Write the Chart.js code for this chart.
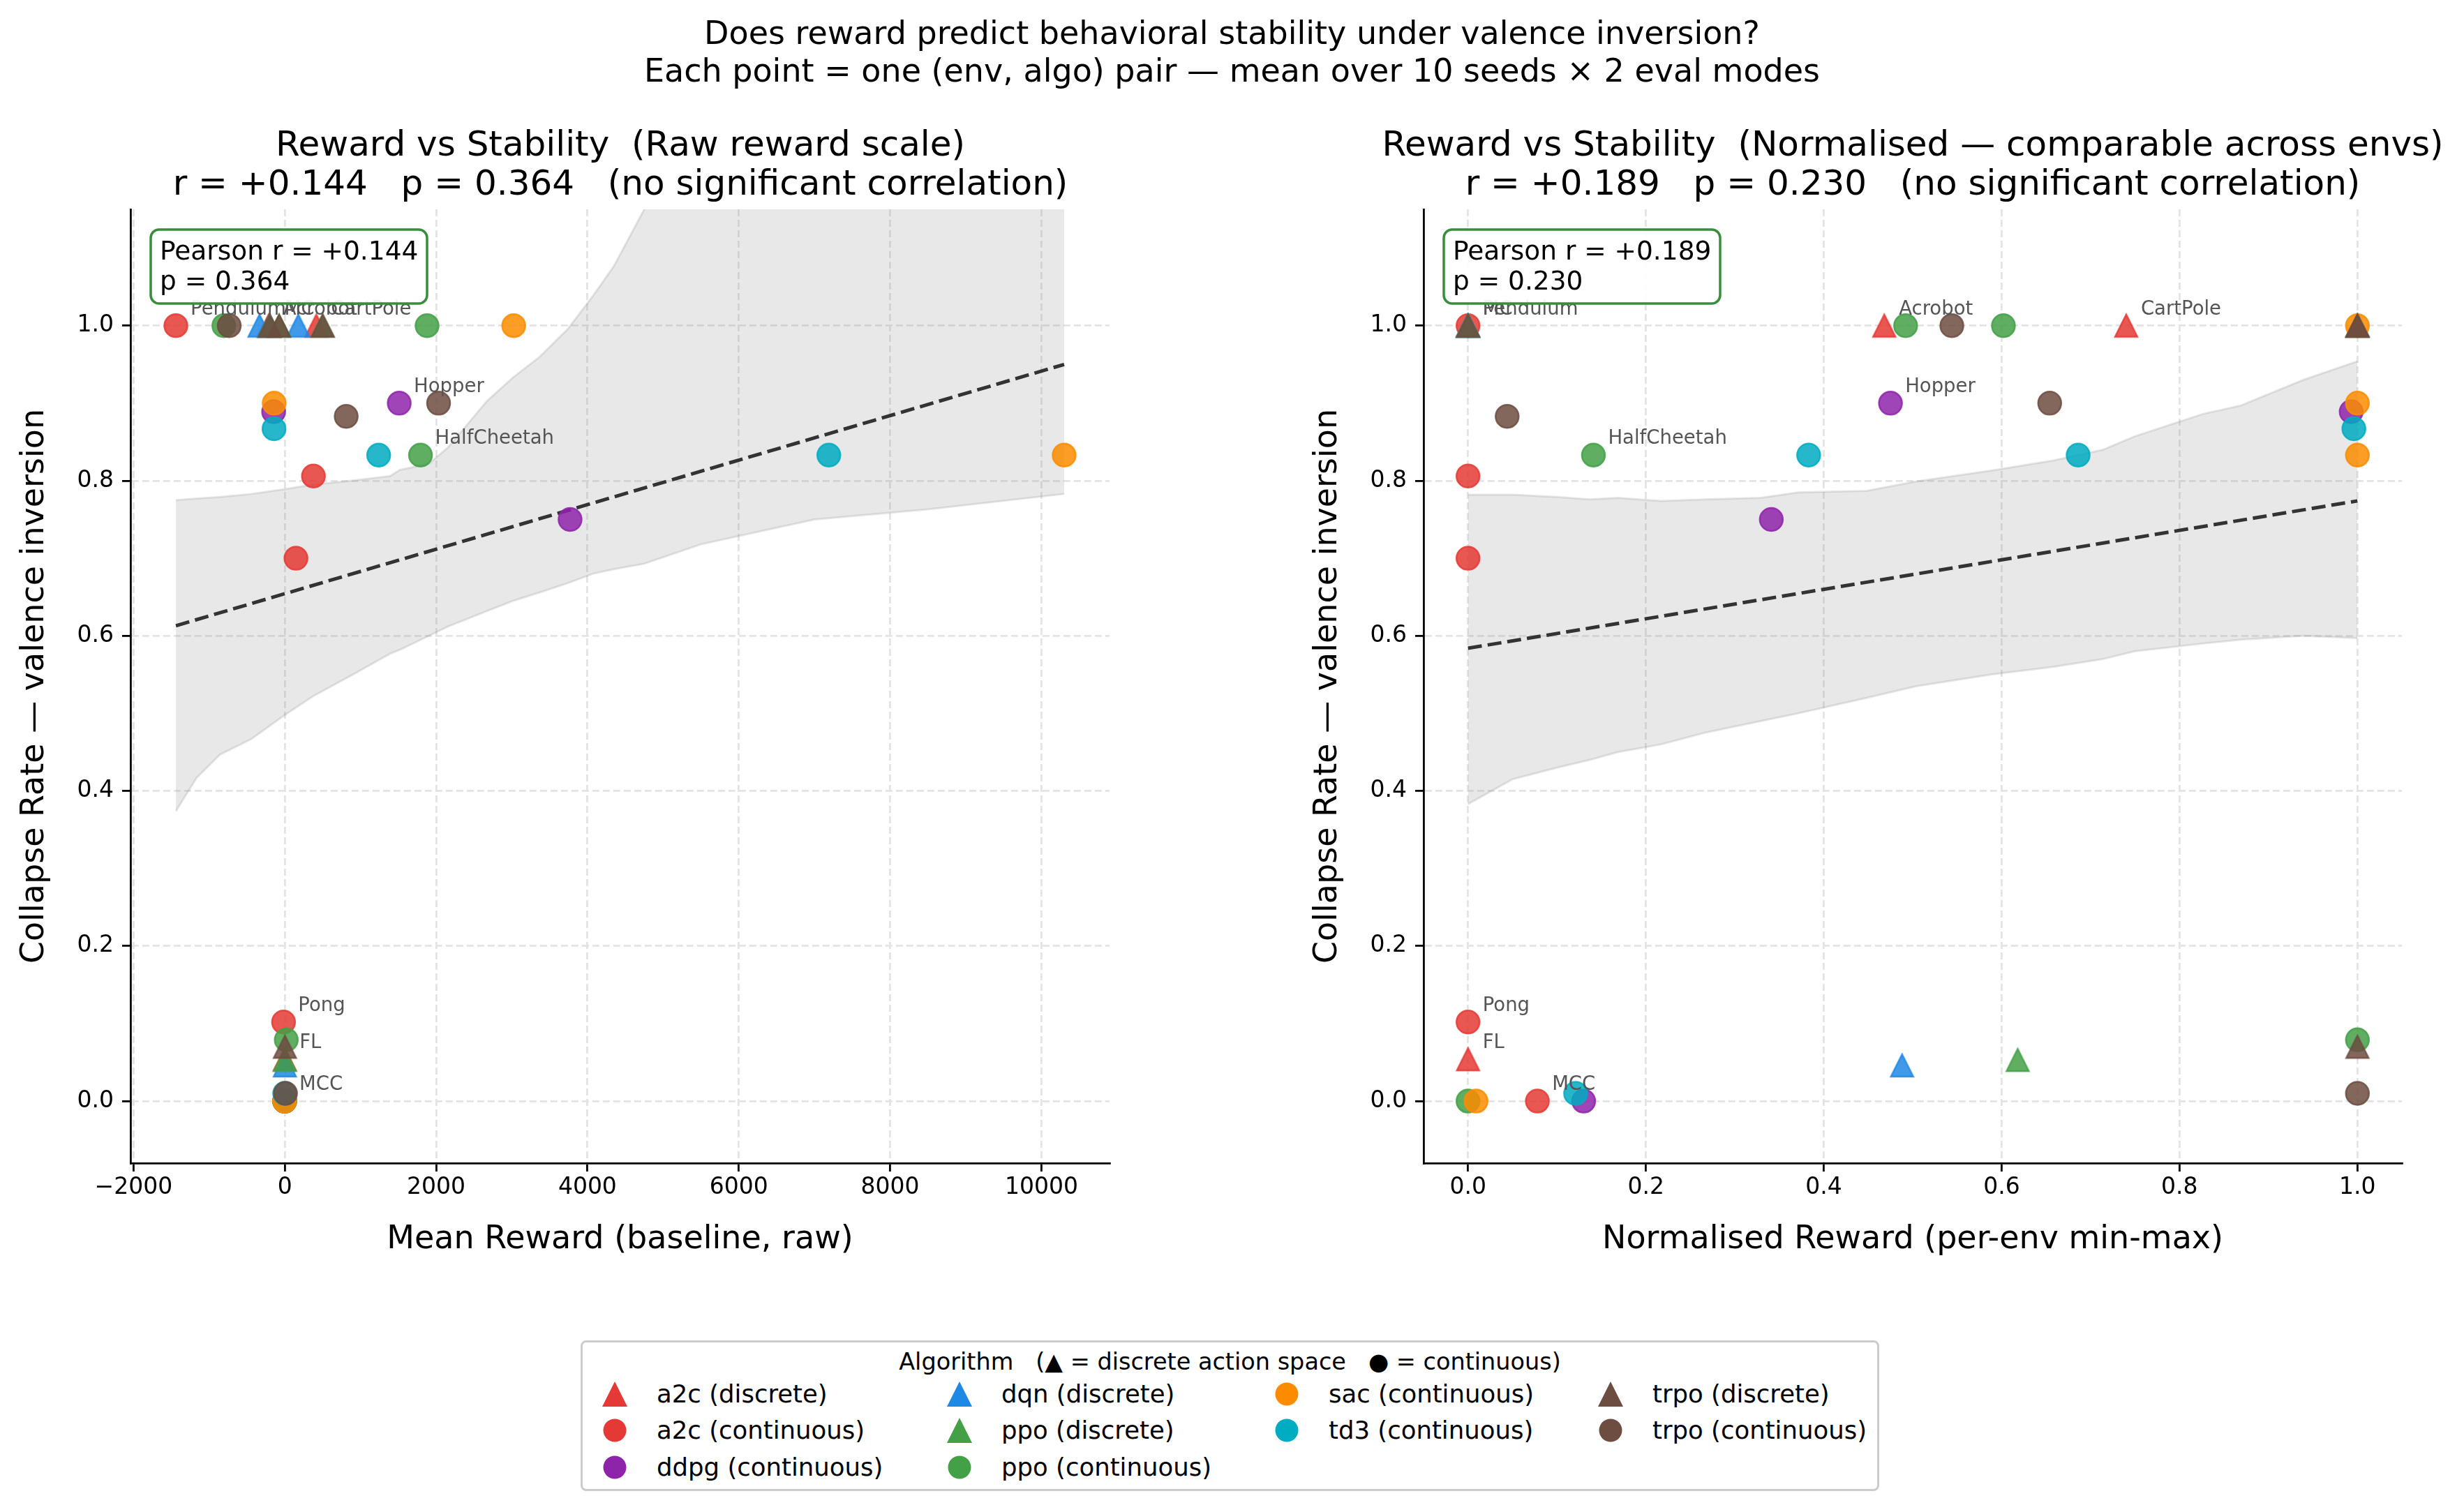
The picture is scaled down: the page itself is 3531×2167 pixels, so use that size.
<!DOCTYPE html>
<html lang="en">
<head>
  <meta charset="UTF-8">
  <title>Reward vs Stability under valence inversion</title>
  <script src="https://cdn.jsdelivr.net/npm/chart.js@4.4.0/dist/chart.umd.min.js"></script>
  <style>
    html, body { margin: 0; padding: 0; background: #fff; }
    body {
      width: 3531px; height: 2167px; position: relative; overflow: hidden;
      font-family: "DejaVu Sans", sans-serif; color: #000;
    }
    #suptitle {
      position: absolute; left: 0; top: 20px; width: 3531px;
      text-align: center; font-size: 46px; line-height: 54px; z-index: 2;
    }
    .axtitle {
      position: absolute; top: 178px; width: 1800px; text-align: center;
      font-size: 50px; line-height: 56px; white-space: pre; z-index: 2;
    }
    #raw-title { left: -11px; }     /* centred on x = 888.5 */
    #norm-title { left: 1841px; }   /* centred on x = 2741 */
    .panel { position: absolute; top: 0; }
    #left-panel { left: 0; width: 1765px; height: 1860px; }
    #right-panel { left: 1853px; width: 1678px; height: 1860px; }
    #legend {
      position: absolute; left: 832px; top: 1921px; width: 1861px; height: 216px;
      box-sizing: border-box; border: 3px solid #cccccc; border-radius: 8px; background: #fff;
    }
    #legend-title {
      position: absolute; left: 0; width: 100%; top: 9px; text-align: center;
      font-size: 33.5px; line-height: 38px; white-space: pre;
    }
    .leg-marker { position: absolute; width: 40px; height: 40px; }
    .leg-text { position: absolute; font-size: 35.5px; line-height: 40px; white-space: pre; }
  </style>
</head>
<body>
  <div id="suptitle">Does reward predict behavioral stability under valence inversion?<br>Each point = one (env, algo) pair — mean over 10 seeds × 2 eval modes</div>
  <div class="axtitle" id="raw-title"></div>
  <div class="axtitle" id="norm-title"></div>

  <div class="panel" id="left-panel"><canvas id="rawChart" width="1765" height="1860"></canvas></div>
  <div class="panel" id="right-panel"><canvas id="normChart" width="1678" height="1860"></canvas></div>

  <div id="legend">
    <div id="legend-title">Algorithm   (▲ = discrete action space   ● = continuous)</div>
  </div>

  <script>
    // ---- data ----
    const discreteEnvs = ['Acrobot', 'CartPole', 'MC', 'FL'];

    const pointEnv = [
      'Pendulum', 'Pendulum', 'Pendulum', 'Pendulum', 'Pendulum', 'Pendulum',
      'Hopper', 'Hopper', 'Hopper', 'Hopper', 'Hopper', 'Hopper',
      'HalfCheetah', 'HalfCheetah', 'HalfCheetah', 'HalfCheetah', 'HalfCheetah', 'HalfCheetah',
      'MCC', 'MCC', 'MCC', 'MCC', 'MCC', 'MCC',
      'Pong', 'Pong',
      'Acrobot', 'Acrobot', 'Acrobot', 'Acrobot',
      'CartPole', 'CartPole', 'CartPole', 'CartPole',
      'MC', 'MC', 'MC', 'MC',
      'FL', 'FL', 'FL', 'FL'
    ];
    const pointAlgo = [
      'a2c', 'ddpg', 'ppo', 'sac', 'td3', 'trpo',
      'a2c', 'ddpg', 'ppo', 'sac', 'td3', 'trpo',
      'a2c', 'ddpg', 'ppo', 'sac', 'td3', 'trpo',
      'a2c', 'ddpg', 'ppo', 'sac', 'td3', 'trpo',
      'a2c', 'ppo',
      'a2c', 'dqn', 'ppo', 'trpo',
      'a2c', 'dqn', 'ppo', 'trpo',
      'a2c', 'dqn', 'ppo', 'trpo',
      'a2c', 'dqn', 'ppo', 'trpo'
    ];
    const rawReward = [
      -1440, -148, -806, -141, -143, -735,
      147, 1512, 1880, 3025, 1240, 2032,
      378, 3770, 1793, 10300, 7190, 811,
      -2.1, -1.5, -3.0, -2.9, -1.6, 8.5,
      -17, 19,
      -215, -335, -76, -76,
      416, 178, 500, 500,
      -200, -200, -200, -200,
      0.0, 0.36, 0.46, 0.74
    ];
    const normReward = [
      0.000, 0.993, 0.492, 1.000, 0.996, 0.544,
      0.000, 0.475, 0.602, 1.000, 0.383, 0.654,
      0.000, 0.341, 0.141, 1.000, 0.686, 0.044,
      0.078, 0.130, 0.000, 0.009, 0.121, 1.000,
      0.000, 1.000,
      0.468, 0.000, 1.000, 1.000,
      0.740, 0.000, 1.000, 1.000,
      0.000, 0.000, 0.000, 0.000,
      0.000, 0.488, 0.618, 1.000
    ];
    const collapseRate = [
      1.000, 0.889, 1.000, 0.900, 0.867, 1.000,
      0.700, 0.900, 1.000, 1.000, 0.833, 0.900,
      0.806, 0.750, 0.833, 0.833, 0.833, 0.883,
      0.000, 0.000, 0.000, 0.000, 0.010, 0.010,
      0.102, 0.079,
      1.000, 1.000, 1.000, 1.000,
      1.000, 1.000, 1.000, 1.000,
      1.000, 1.000, 1.000, 1.000,
      0.054, 0.046, 0.053, 0.070
    ];

    // env name annotations sit next to one point of each env
    const labelEnv  = ['Pendulum', 'Acrobot', 'MC', 'CartPole', 'Hopper', 'HalfCheetah', 'Pong', 'FL', 'MCC'];
    const labelAlgo = ['a2c', 'a2c', 'a2c', 'a2c', 'ddpg', 'ppo', 'a2c', 'a2c', 'a2c'];

    // OLS fit lines and bootstrap band (raw panel)
    const rawFitX = [-1440, 10300];
    const rawFitY = [0.613, 0.950];
    const rawBandX    = [-1440, -1166, -855, -440, -14, 370, 881, 1392, 1520, 1904, 2157, 2415, 2673, 3014, 3371, 3742, 4070, 4350, 4750, 5500, 7000, 8500, 10300];
    const rawBandHigh = [0.775, 0.777, 0.779, 0.783, 0.789, 0.795, 0.800, 0.806, 0.814, 0.822, 0.843, 0.873, 0.903, 0.933, 0.960, 0.996, 1.038, 1.077, 1.150, 1.250, 1.450, 1.600, 1.800];
    const rawBandLow  = [0.374, 0.417, 0.447, 0.467, 0.497, 0.522, 0.549, 0.577, 0.582, 0.600, 0.612, 0.622, 0.632, 0.645, 0.656, 0.668, 0.680, 0.686, 0.693, 0.718, 0.750, 0.763, 0.783];

    // normalised panel
    const normFitX = [0, 1];
    const normFitY = [0.584, 0.774];
    const normBandX    = [0, 0.05, 0.1, 0.137, 0.168, 0.217, 0.266, 0.329, 0.371, 0.448, 0.504, 0.588, 0.658, 0.714, 0.749, 0.826, 0.869, 0.939, 1.0];
    const normBandHigh = [0.782, 0.782, 0.779, 0.776, 0.778, 0.774, 0.776, 0.778, 0.785, 0.787, 0.799, 0.813, 0.826, 0.840, 0.857, 0.886, 0.897, 0.930, 0.954];
    const normBandLow  = [0.383, 0.415, 0.430, 0.440, 0.450, 0.460, 0.475, 0.490, 0.500, 0.520, 0.535, 0.550, 0.560, 0.570, 0.580, 0.590, 0.595, 0.600, 0.597];

    // tick positions
    const rawTicks = [-2000, 0, 2000, 4000, 6000, 8000, 10000];
    const normTicks = [0, 0.2, 0.4, 0.6, 0.8, 1.0];
    const collapseTicks = [0, 0.2, 0.4, 0.6, 0.8, 1.0];

    const rawTitle  = ['Reward vs Stability  (Raw reward scale)', 'r = +0.144   p = 0.364   (no significant correlation)'];
    const normTitle = ['Reward vs Stability  (Normalised — comparable across envs)', 'r = +0.189   p = 0.230   (no significant correlation)'];
    const rawStats  = ['Pearson r = +0.144', 'p = 0.364'];
    const normStats = ['Pearson r = +0.189', 'p = 0.230'];

    // legend / draw order
    const groups = [
      ['a2c', 'discrete'], ['a2c', 'continuous'], ['ddpg', 'continuous'],
      ['dqn', 'discrete'], ['ppo', 'discrete'], ['ppo', 'continuous'],
      ['sac', 'continuous'], ['td3', 'continuous'],
      ['trpo', 'discrete'], ['trpo', 'continuous']
    ];

    const algoColors = {
      a2c: '#e53935', ddpg: '#8e24aa', dqn: '#1e88e5', ppo: '#43a047',
      sac: '#fb8c00', td3: '#00acc1', trpo: '#6d4c41'
    };

    Chart.defaults.font.family = "'DejaVu Sans', sans-serif";
    Chart.defaults.color = '#000';

    document.getElementById('raw-title').textContent = rawTitle.join('\n');
    document.getElementById('norm-title').textContent = normTitle.join('\n');

    function rgba(hex, a) {
      const n = parseInt(hex.slice(1), 16);
      return `rgba(${(n >> 16) & 255}, ${(n >> 8) & 255}, ${n & 255}, ${a})`;
    }

    function spaceOf(env) {
      return discreteEnvs.includes(env) ? 'discrete' : 'continuous';
    }

    function triangleSprite(hex) {
      const c = document.createElement('canvas');
      c.width = 40; c.height = 40;
      const g = c.getContext('2d');
      g.beginPath();
      g.moveTo(20, 4); g.lineTo(4, 36); g.lineTo(36, 36); g.closePath();
      g.fillStyle = rgba(hex, 0.85);
      g.fill();
      g.lineWidth = 2.5;
      g.strokeStyle = rgba(hex, 0.85);
      g.stroke();
      return c;
    }

    function buildDatasets(xs, bandX, bandLow, bandHigh, fitX, fitY) {
      const sets = [];
      sets.push({
        type: 'line', data: bandX.map((x, i) => ({ x, y: bandHigh[i] })),
        borderColor: 'rgba(128,128,128,0.2)', borderWidth: 3,
        backgroundColor: 'rgba(128,128,128,0.18)', fill: '+1',
        pointRadius: 0, tension: 0, order: 100
      });
      sets.push({
        type: 'line', data: bandX.map((x, i) => ({ x, y: bandLow[i] })),
        borderColor: 'rgba(128,128,128,0.2)', borderWidth: 3,
        fill: false, pointRadius: 0, tension: 0, order: 99
      });
      sets.push({
        type: 'line', data: fitX.map((x, i) => ({ x, y: fitY[i] })),
        borderColor: '#333333', borderWidth: 5, borderDash: [20, 8.5],
        fill: false, pointRadius: 0, order: 98
      });
      groups.forEach(([algo, space], k) => {
        const data = [];
        pointEnv.forEach((env, i) => {
          if (pointAlgo[i] === algo && spaceOf(env) === space) {
            data.push({ x: xs[i], y: collapseRate[i] });
          }
        });
        const col = algoColors[algo];
        sets.push({
          type: 'scatter', data,
          pointStyle: space === 'discrete' ? triangleSprite(col) : 'circle',
          pointRadius: 16.5,
          backgroundColor: rgba(col, 0.85),
          borderColor: rgba(col, 0.85),
          borderWidth: 2.5,
          order: 50 - k
        });
      });
      return sets;
    }

    function makeEnvLabels(xs) {
      return {
        id: 'envLabels',
        afterDatasetsDraw(chart) {
          const { ctx, scales: { x, y } } = chart;
          ctx.save();
          ctx.font = "27.5px 'DejaVu Sans'";
          ctx.fillStyle = '#555555';
          ctx.textBaseline = 'alphabetic';
          labelEnv.forEach((env, k) => {
            const i = pointEnv.findIndex((e, j) => e === env && pointAlgo[j] === labelAlgo[k]);
            const px = x.getPixelForValue(xs[i]);
            const py = y.getPixelForValue(collapseRate[i]);
            ctx.fillText(env, px + 21, py - 16);
          });
          ctx.restore();
        }
      };
    }

    function makeStatsBox(lines) {
      return {
        id: 'statsBox',
        afterDraw(chart) {
          const { ctx, chartArea } = chart;
          const bx = chartArea.left + 29, by = chartArea.top + 29, bw = 396, bh = 106;
          ctx.save();
          ctx.beginPath();
          ctx.roundRect(bx, by, bw, bh, 12);
          ctx.fillStyle = 'rgba(255,255,255,0.92)';
          ctx.fill();
          ctx.lineWidth = 3.5;
          ctx.strokeStyle = '#388e3c';
          ctx.stroke();
          ctx.fillStyle = '#000';
          ctx.font = "37.5px 'DejaVu Sans'";
          ctx.textBaseline = 'alphabetic';
          lines.forEach((t, i) => ctx.fillText(t, bx + 13, by + 43 + i * 43));
          ctx.restore();
        }
      };
    }

    const fmtNum = v => (v < 0 ? '\u2212' : '') + Math.abs(v).toString();

    function makeChart(canvasId, opts) {
      const grid = { color: '#e4e4e4', lineWidth: 2.8, drawTicks: true, tickLength: 12, tickColor: '#000', tickWidth: 2.8 };
      const border = { display: true, color: '#000', width: 2.8, dash: [10, 5] };
      return new Chart(document.getElementById(canvasId), {
        type: 'scatter',
        data: { datasets: buildDatasets(opts.xs, opts.bandX, opts.bandLow, opts.bandHigh, opts.fitX, opts.fitY) },
        options: {
          responsive: false,
          animation: false,
          devicePixelRatio: 1,
          events: [],
          layout: { padding: { left: 0, right: opts.padRight, top: 300, bottom: 0 } },
          plugins: {
            legend: { display: false },
            tooltip: { enabled: false },
            title: { display: false }
          },
          scales: {
            x: {
              type: 'linear', min: opts.xMin, max: opts.xMax,
              grid, border,
              afterBuildTicks: s => { s.ticks = opts.xTicks.map(v => ({ value: v })); },
              ticks: {
                autoSkip: false, maxRotation: 0,
                padding: 4, color: '#000', font: { size: 33 },
                callback: opts.xFmt
              },
              title: {
                display: true, text: opts.xTitle, color: '#000',
                font: { size: 46, lineHeight: 1.2 }, padding: { top: 0, bottom: 55 }
              },
              afterFit: s => { s.height = 193; }
            },
            y: {
              type: 'linear', min: -0.08, max: 1.15,
              grid, border,
              afterBuildTicks: s => { s.ticks = collapseTicks.map(v => ({ value: v })); },
              ticks: {
                autoSkip: false, padding: 12, color: '#000',
                font: { size: 33 }, callback: v => v.toFixed(1)
              },
              title: {
                display: true, text: 'Collapse Rate — valence inversion', color: '#000',
                font: { size: 46, lineHeight: 1.2 }, padding: { top: 22, bottom: 0 }
              },
              afterFit: s => { s.width = 187; }
            }
          }
        },
        plugins: [makeEnvLabels(opts.xs), makeStatsBox(opts.stats)]
      });
    }

    makeChart('rawChart', {
      xs: rawReward, bandX: rawBandX, bandLow: rawBandLow, bandHigh: rawBandHigh,
      fitX: rawFitX, fitY: rawFitY, stats: rawStats, xTicks: rawTicks,
      xMin: -2040, xMax: 10900, xFmt: v => fmtNum(v),
      xTitle: 'Mean Reward (baseline, raw)', padRight: 175
    });

    makeChart('normChart', {
      xs: normReward, bandX: normBandX, bandLow: normBandLow, bandHigh: normBandHigh,
      fitX: normFitX, fitY: normFitY, stats: normStats, xTicks: normTicks,
      xMin: -0.05, xMax: 1.05, xFmt: v => v.toFixed(1),
      xTitle: 'Normalised Reward (per-env min-max)', padRight: 89
    });

    // ---- shared legend below the panels ----
    const legend = document.getElementById('legend');
    const legColX = [49, 543, 1012, 1476];
    const legRowY = [77, 129, 182];
    const perCol = [3, 3, 2, 2];
    let gi = 0;
    perCol.forEach((n, c) => {
      for (let r = 0; r < n; r++, gi++) {
        const [algo, space] = groups[gi];
        const col = algoColors[algo];
        const cx = legColX[c] - 3, cy = legRowY[r] - 3;
        const svg = document.createElementNS('http://www.w3.org/2000/svg', 'svg');
        svg.setAttribute('class', 'leg-marker');
        svg.setAttribute('viewBox', '0 0 40 40');
        svg.style.left = (cx - 20) + 'px';
        svg.style.top = (cy - 20) + 'px';
        const shape = document.createElementNS('http://www.w3.org/2000/svg', space === 'discrete' ? 'polygon' : 'circle');
        if (space === 'discrete') {
          shape.setAttribute('points', '20,2 2,38 38,38');
        } else {
          shape.setAttribute('cx', 20); shape.setAttribute('cy', 20); shape.setAttribute('r', 16.5);
        }
        shape.setAttribute('fill', col);
        svg.appendChild(shape);
        legend.appendChild(svg);

        const txt = document.createElement('div');
        txt.className = 'leg-text';
        txt.textContent = `${algo} (${space})`;
        txt.style.left = (legColX[c] + 57) + 'px';
        txt.style.top = (cy - 20) + 'px';
        legend.appendChild(txt);
      }
    });
  </script>
</body>
</html>
